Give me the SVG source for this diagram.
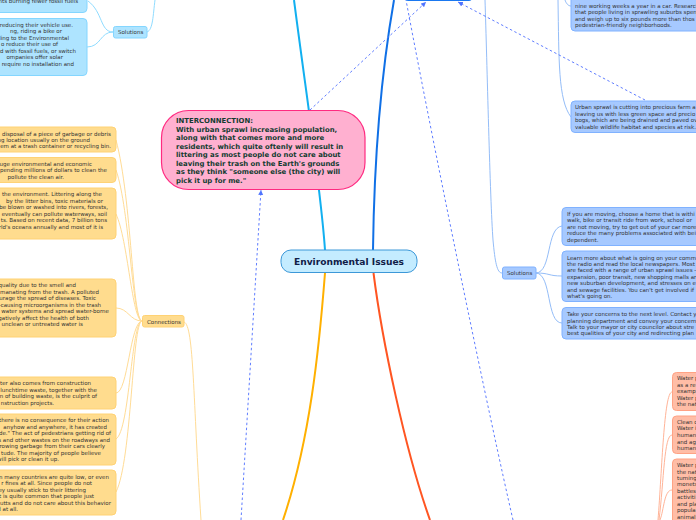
<svg xmlns="http://www.w3.org/2000/svg" width="696" height="520" viewBox="0 0 696 520">
<style>
text{font-family:"DejaVu Sans",Verdana,sans-serif;font-size:5.5px;fill:#333}
.e{text-anchor:end}
.c,.y,.b,.r{stroke-width:1}
.c{fill:#aee4ff;stroke:#84d6ff}
.y{fill:#ffdc8e;stroke:#ffd274}
.b{fill:#a6c9ff;stroke:#80b2ff}
.r{fill:#ffbda6;stroke:#ffa284}
.l{fill:none;stroke-width:1}
.lc{stroke:#8fdcff}.ly{stroke:#ffdc96}.lb{stroke:#94bdf8}.lr{stroke:#ffb498}
.m{fill:none;stroke-width:2}
.d{fill:none;stroke:#5f7dff;stroke-width:1;stroke-dasharray:2.500 2.500}
.lab{font-size:5.5px;fill:#333}
.i{font-size:6.9px;fill:#123c30;font-weight:bold}
</style>
<defs>
<marker id="a" markerWidth="6" markerHeight="6" refX="5" refY="3" orient="auto"><path d="M0,0.5L5,3L0,5.5Z" fill="#4f74ff"/></marker>
</defs>
<g id="connectors">
<path class="m" stroke="#12b0f0" d="M325,250C321,190 307,100 294,0"/>
<path class="m" stroke="#1070e6" d="M373,250C374,170 380,80 394,0"/>
<path class="m" stroke="#ffb000" d="M325,273C319,350 310,440 283,520"/>
<path class="m" stroke="#ff5522" d="M373.500,273C382,340 405,450 430,520"/>
<path class="l lc" d="M113,32C100,32 103,12 88,1"/>
<path class="l lc" d="M113,32C100,32 101,47 87,47"/>
<path class="l lc" d="M147,32C153,30 153,15 155,0"/>
<path class="l ly" d="M142,321C132,320 132,200 116,140"/>
<path class="l ly" d="M142,321C132,320 130,210 116,170"/>
<path class="l ly" d="M142,321C132,320 128,240 116,214"/>
<path class="l ly" d="M142,321C130,321 128,308 116,308"/>
<path class="l ly" d="M142,321C130,322 128,393 116,393"/>
<path class="l ly" d="M142,321C131,322 130,430 116,439"/>
<path class="l ly" d="M142,321C132,322 132,460 116,492"/>
<path class="l ly" d="M184,322C194,325 193,400 201,520"/>
<path class="l lb" d="M485,0C487,60 490,200 493,240C495,262 497,273 502,273"/>
<path class="l lb" d="M558,0C559,60 558,100 571,117"/>
<path class="l lb" d="M565,0C566,3 568,6 571,6"/>
<path class="l lb" d="M536,273C552,272 546,228 562,226"/>
<path class="l lb" d="M536,273C550,273 548,276 562,276"/>
<path class="l lb" d="M536,273C552,274 546,323 562,323"/>
<path class="l lr" d="M658,520C662,470 664,392 672,392"/>
<path class="l lr" d="M659,520C664,480 664,435 672,435"/>
<path class="l lr" d="M660,520C664,510 664,490 672,490"/>
<path class="d" marker-end="url(#a)" d="M241,520L261,190"/>
<path class="d" marker-end="url(#a)" d="M310,110L426,2"/>
<path class="d" d="M513,520C490,420 440,180 406,0"/>
<path class="d" marker-end="url(#a)" d="M645,100L458,2"/>
</g>
<g id="top-node"><rect x="405" y="-20" width="67" height="20.500" rx="3" fill="#5aa0f8" stroke="#1a78f0"/></g>
<g id="interconnection">
<rect x="161.500" y="110.500" width="203.500" height="79" rx="27" fill="#ffb0d0" stroke="#ff2a80" stroke-width="1.200"/>
<text class="i" x="176" y="122.500">INTERCONNECTION:</text>
<text class="i" x="176" y="131.500">With urban sprawl increasing population,</text>
<text class="i" x="176" y="140">along with that comes more and more</text>
<text class="i" x="176" y="149">residents, which quite oftenly will result in</text>
<text class="i" x="176" y="157">littering as most people do not care about</text>
<text class="i" x="176" y="166">leaving their trash on the Earth's grounds</text>
<text class="i" x="176" y="174">as they think "someone else (the city) will</text>
<text class="i" x="176" y="183">pick it up for me."</text>
</g>
<g id="central">
<rect x="281" y="250" width="136" height="22.500" rx="10" fill="#c4ecff" stroke="#3c98d8"/>
<text x="349" y="265" text-anchor="middle" style="font-size:9.100px;font-weight:bold;fill:#102048">Environmental Issues</text>
</g>
<g id="solutions-left">
<rect class="c" x="113.500" y="26.500" width="33.500" height="11.500" rx="2"/><text class="lab" x="118" y="34">Solutions</text>
</g>
<g id="solution-left-1">
<rect class="c" x="-12" y="-20" width="99" height="32.500" rx="4"/>
<text class="e" x="78" y="3">nts burning fewer fossil fuels</text>
</g>
<g id="solution-left-2">
<rect class="c" x="-12" y="18.500" width="99" height="57" rx="4"/>
<text class="e" x="73" y="27">reducing their vehicle use.</text>
<text class="e" x="62" y="33">ng, riding a bike or</text>
<text class="e" x="69" y="40">ling to the Environmental</text>
<text class="e" x="58" y="46">o reduce their use of</text>
<text class="e" x="76" y="53">d with fossil fuels, or switch</text>
<text class="e" x="63" y="59">ompanies offer solar</text>
<text class="e" x="74" y="65.500">require no installation and</text>
</g>
<g id="connections"><rect class="y" x="142.500" y="315.500" width="41.500" height="11.500" rx="2"/><text class="lab" x="147" y="323.500">Connections</text></g>
<g id="y1"><rect class="y" x="-12" y="127" width="128" height="25" rx="4"/>
<text class="e" x="111" y="135.500">disposal of a piece of garbage or debris</text>
<text class="e" x="90" y="142">ing location usually on the ground</text>
<text class="e" x="111" y="148">em at a trash container or recycling bin.</text></g>
<g id="y2"><rect class="y" x="-12" y="157.500" width="128" height="25" rx="4"/>
<text class="e" x="92" y="166">uge environmental and economic</text>
<text class="e" x="107" y="172">pending millions of dollars to clean the</text>
<text class="e" x="64" y="179">pollute the clean air.</text></g>
<g id="y3"><rect class="y" x="-12" y="188" width="128" height="51" rx="4"/>
<text class="e" x="102" y="196">the environment. Littering along the</text>
<text class="e" x="103" y="202.500">by the litter bins, toxic materials or</text>
<text class="e" x="108" y="209">be blown or washed into rivers, forests,</text>
<text class="e" x="107" y="216">eventually can pollute waterways, soil</text>
<text class="e" x="107" y="222">ts. Based on recent data, 7 billion tons</text>
<text class="e" x="103" y="229">rld's oceans annually and most of it is</text></g>
<g id="y4"><rect class="y" x="-12" y="279" width="128" height="58" rx="4"/>
<text class="e" x="76" y="287">quality due to the smell and</text>
<text class="e" x="99" y="293.500">manating from the trash. A polluted</text>
<text class="e" x="96" y="300">urage the spread of diseases. Toxic</text>
<text class="e" x="101" y="306.500">-causing microorganisms in the trash</text>
<text class="e" x="109" y="313">water systems and spread water-borne</text>
<text class="e" x="89" y="319.500">gatively affect the health of both</text>
<text class="e" x="83" y="326">unclean or untreated water is</text></g>
<g id="y5"><rect class="y" x="-12" y="377" width="128" height="32" rx="4"/>
<text class="e" x="91" y="385">ter also comes from construction</text>
<text class="e" x="97" y="392">lunchtime waste, together with the</text>
<text class="e" x="97" y="398">n of building waste, is the culprit of</text>
<text class="e" x="54" y="405">nstruction projects.</text></g>
<g id="y6"><rect class="y" x="-12" y="414" width="128" height="51" rx="4"/>
<text class="e" x="109" y="422">there is no consequence for their action</text>
<text class="e" x="107" y="428.500">anyhow and anywhere, it has created</text>
<text class="e" x="111" y="435">de." The act of pedestrians getting rid of</text>
<text class="e" x="110" y="441.500">s and other wastes on the roadways and</text>
<text class="e" x="105" y="448">rowing garbage from their cars clearly</text>
<text class="e" x="101" y="455">tude. The majority of people believe</text>
<text class="e" x="59" y="461">will pick or clean it up.</text></g>
<g id="y7"><rect class="y" x="-12" y="470" width="128" height="45" rx="4"/>
<text class="e" x="109" y="478.500">n many countries are quite low, or even</text>
<text class="e" x="92" y="485">r fines at all. Since people do not</text>
<text class="e" x="86" y="492">ey usually stick to their littering</text>
<text class="e" x="94" y="498">it is quite common that people just</text>
<text class="e" x="111" y="505">utts and do not care about this behavior</text>
<text class="e" x="18" y="511">d at all.</text></g>
<g id="b1"><rect class="b" x="571" y="-20" width="140" height="51" rx="4"/>
<text x="575" y="8">nine working weeks a year in a car. Research</text>
<text x="575" y="14">that people living in sprawling suburbs spen</text>
<text x="575" y="21">and weigh up to six pounds more than thos</text>
<text x="575" y="27">pedestrian-friendly neighborhoods.</text></g>
<g id="b2"><rect class="b" x="571" y="101" width="140" height="31.500" rx="4"/>
<text x="575" y="109">Urban sprawl is cutting into precious farm a</text>
<text x="575" y="115.500">leaving us with less green space and precio</text>
<text x="575" y="122">bogs, which are being drained and paved ov</text>
<text x="575" y="129">valuable wildlife habitat and species at risk.</text></g>
<g id="solutions-right"><rect class="b" x="502.500" y="267" width="33.500" height="12" rx="2"/><text class="lab" x="507" y="275">Solutions</text></g>
<g id="b3"><rect class="b" x="562" y="207.500" width="150" height="38" rx="4"/>
<text x="567" y="216">If you are moving, choose a home that is withi</text>
<text x="567" y="222">walk, bike or transit ride from work, school or</text>
<text x="567" y="229">are not moving, try to get out of your car more</text>
<text x="567" y="235">reduce the many problems associated with bei</text>
<text x="567" y="242">dependent.</text></g>
<g id="b4"><rect class="b" x="562" y="251" width="150" height="50.500" rx="4"/>
<text x="567" y="259.500">Learn more about what is going on your comm</text>
<text x="567" y="266">the radio and read the local newspapers. Most</text>
<text x="567" y="272">are faced with a range of urban sprawl issues -</text>
<text x="567" y="279">expansion, poor transit, new shopping malls ar</text>
<text x="567" y="285">new suburban development, and stresses on e</text>
<text x="567" y="292">and sewage facilities. You can't get involved if</text>
<text x="567" y="298">what's going on.</text></g>
<g id="b5"><rect class="b" x="562" y="307.500" width="150" height="31.500" rx="4"/>
<text x="567" y="316">Take your concerns to the next level. Contact y</text>
<text x="567" y="322.500">planning department and convey your concern</text>
<text x="567" y="329">Talk to your mayor or city councilor about stre</text>
<text x="567" y="335">best qualities of your city and redirecting plan</text></g>
<g id="r1"><rect class="r" x="672.500" y="372.500" width="40" height="38" rx="4"/>
<text x="677" y="380">Water p</text><text x="677" y="387">as a re</text><text x="677" y="393">examp</text><text x="677" y="400">Water p</text><text x="677" y="406">the nat</text></g>
<g id="r2"><rect class="r" x="672.500" y="416" width="40" height="37.500" rx="4"/>
<text x="677" y="424">Clean c</text><text x="677" y="430">Water i</text><text x="677" y="437">human</text><text x="677" y="443.500">and ag</text><text x="677" y="450">human</text></g>
<g id="r3"><rect class="r" x="672.500" y="459" width="40" height="80" rx="4"/>
<text x="677" y="467">Water p</text><text x="677" y="473.500">the nat</text><text x="677" y="480">turning</text><text x="677" y="486">monets</text><text x="677" y="493">battles</text><text x="677" y="499">activiti</text><text x="677" y="506">and pla</text><text x="677" y="512">popula</text><text x="677" y="519">animals</text></g>
</svg>
